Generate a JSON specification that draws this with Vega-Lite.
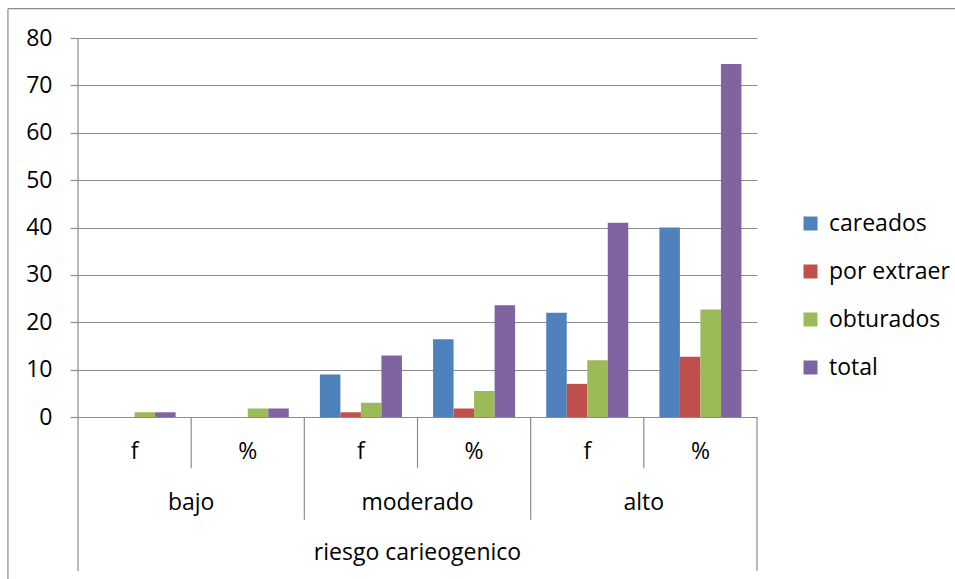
{
  "$schema": "https://vega.github.io/schema/vega-lite/v6.json",
  "width": 679,
  "height": 533,
  "autosize": "none",
  "padding": {"left": 78, "top": 38, "right": 198, "bottom": 8},
  "background": "white",
  "config": {
    "view": {"stroke": null},
    "font": "Open Sans",
    "axis": {"labelFont": "Open Sans"},
    "legend": {"labelFont": "Open Sans"}
  },
  "resolve": {"scale": {"x": "independent"}, "axis": {"x": "independent"}},
  "layer": [
    {
      "data": {
        "values": [
          {"cat": "bajo|f", "serie": "careados", "valor": 0},
          {"cat": "bajo|f", "serie": "por extraer", "valor": 0},
          {"cat": "bajo|f", "serie": "obturados", "valor": 1},
          {"cat": "bajo|f", "serie": "total", "valor": 1},
          {"cat": "bajo|%", "serie": "careados", "valor": 0},
          {"cat": "bajo|%", "serie": "por extraer", "valor": 0},
          {"cat": "bajo|%", "serie": "obturados", "valor": 1.8},
          {"cat": "bajo|%", "serie": "total", "valor": 1.8},
          {"cat": "moderado|f", "serie": "careados", "valor": 9},
          {"cat": "moderado|f", "serie": "por extraer", "valor": 1},
          {"cat": "moderado|f", "serie": "obturados", "valor": 3},
          {"cat": "moderado|f", "serie": "total", "valor": 13},
          {"cat": "moderado|%", "serie": "careados", "valor": 16.4},
          {"cat": "moderado|%", "serie": "por extraer", "valor": 1.8},
          {"cat": "moderado|%", "serie": "obturados", "valor": 5.5},
          {"cat": "moderado|%", "serie": "total", "valor": 23.6},
          {"cat": "alto|f", "serie": "careados", "valor": 22},
          {"cat": "alto|f", "serie": "por extraer", "valor": 7},
          {"cat": "alto|f", "serie": "obturados", "valor": 12},
          {"cat": "alto|f", "serie": "total", "valor": 41},
          {"cat": "alto|%", "serie": "careados", "valor": 40},
          {"cat": "alto|%", "serie": "por extraer", "valor": 12.7},
          {"cat": "alto|%", "serie": "obturados", "valor": 22.7},
          {"cat": "alto|%", "serie": "total", "valor": 74.5}
        ]
      },
      "mark": {"type": "bar"},
      "encoding": {
        "x": {
          "field": "cat", "type": "nominal", "axis": null,
          "scale": {
            "domain": ["bajo|f", "bajo|%", "moderado|f", "moderado|%", "alto|f", "alto|%"],
            "paddingInner": 0.275, "paddingOuter": 0.1375
          }
        },
        "xOffset": {
          "field": "serie", "type": "nominal",
          "scale": {"domain": ["careados", "por extraer", "obturados", "total"], "paddingInner": 0, "paddingOuter": 0}
        },
        "y": {
          "field": "valor", "type": "quantitative",
          "scale": {"domain": [-32.5, 80], "nice": false, "zero": false},
          "axis": {
            "title": null,
            "values": [0, 10, 20, 30, 40, 50, 60, 70, 80],
            "grid": true, "gridColor": "#8c8c8c", "gridWidth": 1.2,
            "domain": false,
            "ticks": true, "tickSize": 8, "tickColor": "#8c8c8c", "tickWidth": 1.2,
            "labelFontSize": 23, "labelColor": "#000000", "labelPadding": 18
          }
        },
        "color": {
          "field": "serie", "type": "nominal",
          "scale": {
            "domain": ["careados", "por extraer", "obturados", "total"],
            "range": ["#4F81BD", "#C0504D", "#9BBB59", "#8064A2"]
          },
          "legend": {
            "title": null, "orient": "none", "legendX": 721, "legendY": 174,
            "symbolType": "square", "symbolSize": 196, "symbolStrokeWidth": 0,
            "labelFontSize": 23, "labelColor": "#000000", "labelOffset": 7,
            "rowPadding": 24, "padding": 0
          }
        }
      }
    },
    {
      "data": {
        "values": [
          {"x": 0, "x2": 0, "y": 80, "y2": -32.5},
          {"x": 6, "x2": 6, "y": 0, "y2": -32.5},
          {"x": 2, "x2": 2, "y": 0, "y2": -21.7},
          {"x": 4, "x2": 4, "y": 0, "y2": -21.7},
          {"x": 1, "x2": 1, "y": 0, "y2": -10.8},
          {"x": 3, "x2": 3, "y": 0, "y2": -10.8},
          {"x": 5, "x2": 5, "y": 0, "y2": -10.8},
          {"x": -0.619, "x2": -0.619, "y": 86.2, "y2": -34.5},
          {"x": -0.619, "x2": 7.8, "y": 86.2, "y2": 86.2}
        ]
      },
      "mark": {"type": "rule", "color": "#8c8c8c", "strokeWidth": 1.2},
      "encoding": {
        "x": {"field": "x", "type": "quantitative", "axis": null, "scale": {"domain": [0, 6], "nice": false, "zero": false}},
        "x2": {"field": "x2"},
        "y": {
          "field": "y", "type": "quantitative",
          "axis": {
            "title": null,
            "values": [0, 10, 20, 30, 40, 50, 60, 70, 80],
            "grid": true, "gridColor": "#8c8c8c", "gridWidth": 1.2,
            "domain": false,
            "ticks": true, "tickSize": 8, "tickColor": "#8c8c8c", "tickWidth": 1.2,
            "labelFontSize": 23, "labelColor": "#000000", "labelPadding": 18
          }
        },
        "y2": {"field": "y2"}
      }
    },
    {
      "data": {
        "values": [
          {"x": 0.5, "y": -7.3, "label": "f"},
          {"x": 1.5, "y": -7.3, "label": "%"},
          {"x": 2.5, "y": -7.3, "label": "f"},
          {"x": 3.5, "y": -7.3, "label": "%"},
          {"x": 4.5, "y": -7.3, "label": "f"},
          {"x": 5.5, "y": -7.3, "label": "%"},
          {"x": 1, "y": -18.2, "label": "bajo"},
          {"x": 3, "y": -18.2, "label": "moderado"},
          {"x": 5, "y": -18.2, "label": "alto"},
          {"x": 3, "y": -28.7, "label": "riesgo carieogenico"}
        ]
      },
      "mark": {"type": "text", "fontSize": 23, "color": "#000000", "baseline": "middle", "align": "center", "font": "Open Sans"},
      "encoding": {
        "x": {"field": "x", "type": "quantitative", "axis": null, "scale": {"domain": [0, 6], "nice": false, "zero": false}},
        "y": {
          "field": "y", "type": "quantitative",
          "axis": {
            "title": null,
            "values": [0, 10, 20, 30, 40, 50, 60, 70, 80],
            "grid": true, "gridColor": "#8c8c8c", "gridWidth": 1.2,
            "domain": false,
            "ticks": true, "tickSize": 8, "tickColor": "#8c8c8c", "tickWidth": 1.2,
            "labelFontSize": 23, "labelColor": "#000000", "labelPadding": 18
          }
        },
        "text": {"field": "label"}
      }
    }
  ]
}
